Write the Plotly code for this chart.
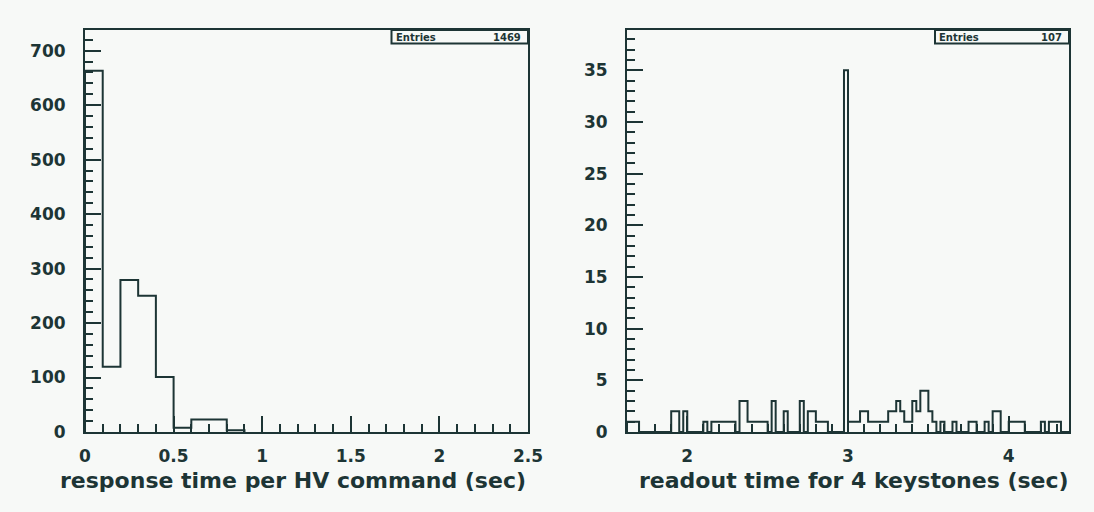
import plotly.graph_objects as go

# ---------------- data ----------------
# left histogram: response time per HV command (bin width 0.1 s)
left_bin_start = 0.0
left_bin_width = 0.1
left_counts = [663, 120, 279, 250, 101, 8, 23, 23, 3]
left_entries = "1469"

# right histogram: readout time for 4 keystones (bin width 0.025 s)
right_bin_start = 1.625
right_bin_width = 0.025
right_counts = [
    1, 1, 1, 0, 0, 0, 0, 0, 0, 0,
    0, 2, 2, 0, 2, 0, 0, 0, 0, 1,
    0, 1, 1, 1, 1, 1, 1, 0, 3, 3,
    1, 1, 1, 1, 1, 0, 3, 0, 0, 2,
    0, 0, 0, 3, 0, 2, 2, 1, 1, 1,
    0, 0, 0, 0, 35, 1, 1, 1, 2, 2,
    1, 1, 1, 1, 1, 2, 2, 3, 2, 1,
    1, 3, 2, 4, 4, 2, 1, 0, 1, 0,
    0, 1, 0, 0, 0, 1, 1, 0, 0, 1,
    0, 2, 2, 0, 0, 1, 1, 1, 1, 0,
    0, 0, 0, 1, 0, 1, 1, 1, 0, 0,
]
right_entries = "107"

left_title = "response time per HV command (sec)"
right_title = "readout time for 4 keystones (sec)"

left_yticks = [0, 100, 200, 300, 400, 500, 600, 700]
right_yticks = [0, 5, 10, 15, 20, 25, 30, 35]
left_xticks = [0, 0.5, 1, 1.5, 2, 2.5]
left_xlabels = ["0", "0.5", "1", "1.5", "2", "2.5"]
right_xticks = [2, 3, 4]
right_xlabels = ["2", "3", "4"]

# ---------------- styling ----------------
INK = "#1d3535"
BG = "#f7f9f7"
FONT = "DejaVu Sans"
W, H = 1094, 512


def step_xy(start, width, counts):
    edges = [start + i * width for i in range(len(counts) + 1)]
    xs = [edges[0]] + edges[:-1] + [edges[-1], edges[-1]]
    ys = [0] + list(counts) + [counts[-1], 0]
    return xs, ys


fig = go.Figure()

lx, ly = step_xy(left_bin_start, left_bin_width, left_counts)
rx, ry = step_xy(right_bin_start, right_bin_width, right_counts)

fig.add_trace(go.Scatter(x=lx, y=ly, mode="lines", line=dict(color=INK, width=2, shape="hv"),
                         xaxis="x", yaxis="y", showlegend=False, hoverinfo="skip"))
fig.add_trace(go.Scatter(x=rx, y=ry, mode="lines", line=dict(color=INK, width=2, shape="hv"),
                         xaxis="x2", yaxis="y2", showlegend=False, hoverinfo="skip"))

# frame positions (pixels in the 1094x512 picture)
L1, R1 = 85, 528
L2, R2 = 627, 1069
TOP, BOT = 30, 432

def px(x):
    return x / W

def py(y):
    return 1 - y / H

tickfont = dict(family=FONT, size=17, color=INK, weight="bold")

common_axis = dict(showgrid=False, zeroline=False, showline=True, linecolor=INK, linewidth=2,
                   mirror=True, ticks="inside", tickcolor=INK, tickwidth=2, tickfont=tickfont,
                   automargin=False)

fig.update_layout(
    width=W, height=H,
    margin=dict(l=0, r=0, t=0, b=0, pad=0),
    paper_bgcolor=BG, plot_bgcolor=BG,
    xaxis=dict(domain=[px(L1), px(R1)], range=[0, 2.5], anchor="y",
               tickvals=left_xticks, ticktext=left_xlabels, ticklen=16, ticklabelstandoff=8,
               minor=dict(ticks="inside", ticklen=8, dtick=0.1, tick0=0, tickcolor=INK, tickwidth=2),
               **common_axis),
    yaxis=dict(domain=[py(BOT), py(TOP)], range=[0, 738], anchor="x",
               tickvals=left_yticks, ticklen=16, ticklabelstandoff=14,
               minor=dict(ticks="inside", ticklen=8, dtick=20, tick0=0, tickcolor=INK, tickwidth=2),
               **common_axis),
    xaxis2=dict(domain=[px(L2), px(R2)], range=[1.625, 4.375], anchor="y2",
                tickvals=right_xticks, ticktext=right_xlabels, ticklen=16, ticklabelstandoff=8,
                minor=dict(ticks="inside", ticklen=8, dtick=0.1, tick0=0, tickcolor=INK, tickwidth=2),
                **common_axis),
    yaxis2=dict(domain=[py(BOT), py(TOP)], range=[0, 38.9], anchor="x2",
                tickvals=right_yticks, ticklen=16, ticklabelstandoff=14,
                minor=dict(ticks="inside", ticklen=8, dtick=1, tick0=0, tickcolor=INK, tickwidth=2),
                **common_axis),
)

# stat boxes
shapes = []
annotations = []
for (x0, x1, entries) in [(391.5, R1, left_entries), (935, R2, right_entries)]:
    shapes.append(dict(type="rect", xref="paper", yref="paper",
                       x0=px(x0), x1=px(x1), y0=py(43.5), y1=py(TOP),
                       line=dict(color=INK, width=2), fillcolor=BG))
    annotations.append(dict(text="<b>Entries</b>", xref="paper", yref="paper",
                            x=px(x0 + 2), y=py(37), xanchor="left", yanchor="middle",
                            showarrow=False, font=dict(family=FONT, size=10, color=INK)))
    annotations.append(dict(text="<b>" + entries + "</b>", xref="paper", yref="paper",
                            x=px(x1 - 5), y=py(37), xanchor="right", yanchor="middle",
                            showarrow=False, font=dict(family=FONT, size=10, color=INK)))

# axis titles (right aligned under frames)
titlefont = dict(family=FONT, size=22, color=INK, weight="bold")
annotations.append(dict(text=left_title, xref="paper", yref="paper", x=px(R1), y=py(480),
                        xanchor="right", yanchor="middle", showarrow=False, font=titlefont))
annotations.append(dict(text=right_title, xref="paper", yref="paper", x=px(R2 + 2), y=py(480),
                        xanchor="right", yanchor="middle", showarrow=False, font=titlefont))

fig.update_layout(shapes=shapes, annotations=annotations)

fig.write_html("out.html",
               config={"displayModeBar": False},
               post_script="document.documentElement.style.margin='0px';"
                           "document.documentElement.style.overflow='hidden';"
                           "document.body.style.margin='0px';"
                           "document.body.style.overflow='hidden';"
                           "document.body.style.background='#f7f9f7';")
